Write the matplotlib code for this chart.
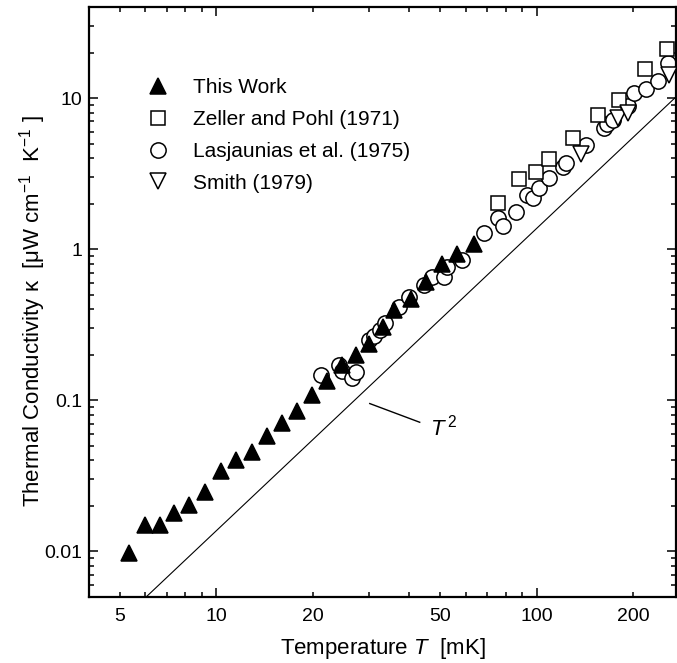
import numpy as np
import matplotlib
matplotlib.use("Agg")
import matplotlib.pyplot as plt
from matplotlib.ticker import FixedLocator, FixedFormatter, NullFormatter

plt.rcParams['font.family'] = ['Liberation Sans', 'DejaVu Sans']
plt.rcParams['mathtext.fontset'] = 'custom'
plt.rcParams['mathtext.rm'] = 'Liberation Sans'
plt.rcParams['mathtext.it'] = 'Liberation Sans:italic'

# This Work (filled up-triangles)
this_T = [5.35, 5.99, 6.65, 7.39, 8.19, 9.24, 10.3, 11.5, 12.9, 14.4, 16.0, 17.9,
          19.9, 22.2, 24.7, 27.2, 29.9, 33.0, 35.8, 40.4, 45.0, 50.7, 56.5, 63.7]
this_k = [0.0098, 0.0150, 0.0150, 0.0181, 0.0203, 0.0247, 0.0340, 0.0402, 0.0457, 0.0581,
          0.071, 0.0845, 0.108, 0.134, 0.170, 0.198, 0.236, 0.305, 0.393, 0.470,
          0.607, 0.803, 0.936, 1.09]

# Zeller and Pohl (1971)
zp_T = [75.4, 88.1, 99.3, 109.2, 129.3, 154.8, 180.8, 217.6, 254.7]
zp_k = [2.01, 2.92, 3.22, 3.95, 5.44, 7.77, 9.77, 15.46, 21.2]

# Lasjaunias et al. (1975)
la_T = [21.2, 24.1, 24.7, 26.5, 27.2, 29.9, 31.0, 32.5, 33.7, 37.1,
        39.9, 44.5, 47.2, 51.3, 52.6, 58.6, 68.4, 75.4, 78.2, 85.9,
        93.5, 97.0, 101.7, 109.2, 120.3, 123.2, 142.2, 162.3, 166.2, 172.5,
        192.0, 201.5, 219.1, 238.5, 256.0]
la_k = [0.147, 0.171, 0.157, 0.140, 0.153, 0.249, 0.268, 0.290, 0.324, 0.414,
        0.482, 0.576, 0.655, 0.655, 0.763, 0.845, 1.27, 1.60, 1.42, 1.77,
        2.28, 2.17, 2.53, 2.95, 3.52, 3.71, 4.91, 6.34, 6.77, 7.20,
        8.91, 10.83, 11.39, 12.93, 17.1]

# Smith (1979)
sm_T = [137.2, 178.7, 193.0, 259.0]
sm_k = [4.28, 7.39, 7.97, 14.2]

# T^2 guide line
guide_T = [4.0, 272.0]
guide_A = 1.375e-4

fig = plt.figure(figsize=(6.77, 6.63), dpi=100)
ax = fig.add_axes([89 / 677, 1 - 597 / 663, 587 / 677, 590 / 663])

gT = np.array(guide_T)
ax.plot(gT, guide_A * gT ** 2, color='black', linewidth=0.8, zorder=1)

mk = dict(linestyle='none', markeredgecolor='black', markeredgewidth=1.1)
ax.plot(la_T, la_k, marker='o', markersize=11, markerfacecolor='white',
        label='Lasjaunias et al. (1975)', zorder=2, **mk)
ax.plot(this_T, this_k, marker='^', markersize=11.5, markerfacecolor='black',
        label='This Work', zorder=3, **mk)
ax.plot(zp_T, zp_k, marker='s', markersize=10, markerfacecolor='white',
        label='Zeller and Pohl (1971)', zorder=4, **mk)
ax.plot(sm_T, sm_k, marker='v', markersize=11, markerfacecolor='white',
        label='Smith (1979)', zorder=4, **mk)

ax.set_xscale('log')
ax.set_yscale('log')
ax.set_xlim(4.0, 272)
ax.set_ylim(0.005, 40)

# x ticks: long at decades, labels at 5,10,20,50,100,200
ax.xaxis.set_major_locator(FixedLocator([10, 100]))
ax.xaxis.set_major_formatter(FixedFormatter(['10', '100']))
x_minor = [5, 6, 7, 8, 9, 20, 30, 40, 50, 60, 70, 80, 90, 200]
x_minor_lab = ['5', '', '', '', '', '20', '', '', '50', '', '', '', '', '200']
ax.xaxis.set_minor_locator(FixedLocator(x_minor))
ax.xaxis.set_minor_formatter(FixedFormatter(x_minor_lab))

ax.yaxis.set_major_locator(FixedLocator([0.01, 0.1, 1, 10]))
ax.yaxis.set_major_formatter(FixedFormatter(['0.01', '0.1', '1', '10']))
y_minor = [m * 10.0 ** e for e in range(-3, 2) for m in range(2, 10)]
ax.yaxis.set_minor_locator(FixedLocator(y_minor))
ax.yaxis.set_minor_formatter(NullFormatter())

ax.tick_params(which='both', direction='in', top=True, right=True, width=1.1,
               labelsize=14)
ax.tick_params(which='major', length=6.5)
ax.tick_params(which='minor', length=3.6)
ax.tick_params(axis='x', which='both', pad=8)
ax.tick_params(axis='y', which='both', pad=5)
for s in ax.spines.values():
    s.set_linewidth(1.6)

ax.set_xlabel('Temperature $T$  [mK]', fontsize=16)
ax.set_ylabel('Thermal Conductivity κ  [μW cm$^{-1}$  K$^{-1}$ ]', fontsize=16)
ax.xaxis.set_label_coords(0.5, -0.066)
ax.yaxis.set_label_coords(-0.069, 0.485)

# annotation for the T^2 line
ax.plot([30.1, 43.1], [0.0952, 0.0716], color='black', linewidth=1.0)
ax.text(46.5, 0.0656, '$T^{\\,2}$', fontsize=16, ha='left', va='center')

handles, labels = ax.get_legend_handles_labels()
order = [1, 2, 0, 3]
ax.legend([handles[i] for i in order], [labels[i] for i in order],
          loc='upper left', bbox_to_anchor=(0.085, 0.893), frameon=False,
          fontsize=15, handlelength=1.0, handletextpad=1.2, labelspacing=0.61,
          borderaxespad=0)

fig.savefig('out.png', dpi=100)
